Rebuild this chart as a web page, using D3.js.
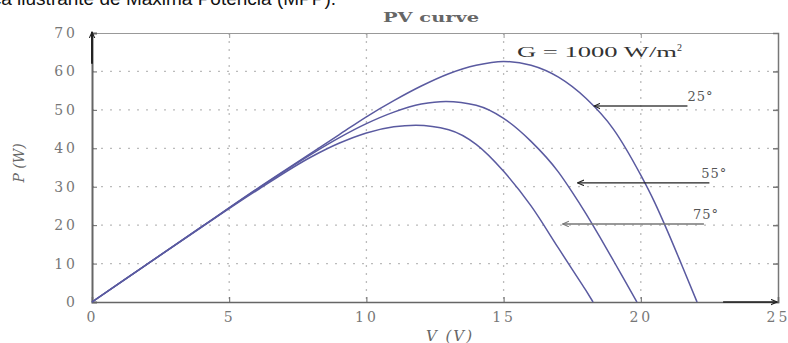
<!DOCTYPE html>
<html>
<head>
<meta charset="utf-8">
<script src="https://cdn.jsdelivr.net/npm/d3@7"></script>
<style>
  body { margin: 0; background: #fff; }
  svg { display: block; }
  .tick text { font-family: "DejaVu Serif", serif; font-size: 14px; fill: #777; letter-spacing: 3px; }
</style>
</head>
<body>
<div id="chart"></div>
<script>
// PV curves for three cell temperatures
var v25 = [0, 2, 4, 6, 8, 9, 10, 11, 12, 13, 14, 15, 16, 17, 18, 19, 20, 20.5, 21, 21.5, 22.05];
var p25 = [0, 9.8, 19.6, 29.4, 38.8, 43.5, 48.2, 52.4, 56.2, 59.4, 61.6, 62.6, 61.6, 58.5, 53, 45, 33, 26, 18, 9.5, 0];

var v55 = [0, 2, 4, 6, 8, 9, 10, 11, 12, 12.9, 14, 15, 16, 17, 17.5, 18, 18.5, 19, 19.5, 19.86];
var p55 = [0, 9.8, 19.6, 29.3, 38.5, 42.7, 46.4, 49.4, 51.5, 52.2, 51.2, 47.8, 41.8, 33.8, 28.6, 23, 17, 10.8, 4.5, 0];

var v75 = [0, 2, 4, 6, 8, 9, 10, 11, 11.8, 13, 14, 15, 16, 17, 17.5, 18, 18.26];
var p75 = [0, 9.8, 19.5, 29, 37.8, 41.3, 44, 45.6, 46, 44.8, 41, 34, 25, 14, 8.5, 3, 0];

var xTickValues = [0, 5, 10, 15, 20, 25];
var yTickValues = [0, 10, 20, 30, 40, 50, 60, 70];

// temperature labels and the power level their arrows point at
var tempLabels = ["25°", "55°", "75°"];
var tempArrowP = [51, 31, 20.3];

var width = 788, height = 343;
var mLeft = 92, mRight = 778, mTop = 33, mBottom = 302;

var svg = d3.select("#chart").append("svg")
    .attr("width", width)
    .attr("height", height);

var x = d3.scaleLinear().domain([0, 25]).range([mLeft, mRight]);
var y = d3.scaleLinear().domain([0, 70]).range([mBottom, mTop]);

// cropped caption text from the page above the figure
svg.append("text")
    .attr("x", 336).attr("y", 5)
    .attr("text-anchor", "end")
    .style("font-family", "'Liberation Sans', Arial, sans-serif")
    .style("font-size", "19px")
    .style("fill", "#111")
    .text("Curva característica ilustrante de Máxima Potência (MPP).");

// dotted grid
svg.append("g").selectAll("line")
    .data(xTickValues.slice(1, -1))
    .enter().append("line")
    .attr("x1", d => x(d)).attr("x2", d => x(d))
    .attr("y1", mTop).attr("y2", mBottom)
    .style("stroke", "#bbb").style("stroke-width", 1.3)
    .style("stroke-dasharray", "2,6");
svg.append("g").selectAll("line")
    .data(yTickValues.slice(1, -1))
    .enter().append("line")
    .attr("x1", mLeft).attr("x2", mRight)
    .attr("y1", d => y(d)).attr("y2", d => y(d))
    .style("stroke", "#bbb").style("stroke-width", 1.3)
    .style("stroke-dasharray", "2,7");

// box + axes (ticks inward, mirrored like matlab)
var xAxis = d3.axisBottom(x).tickValues(xTickValues).tickSize(-5).tickPadding(10);
var yAxis = d3.axisLeft(y).tickValues(yTickValues).tickSize(-5).tickPadding(14);

svg.append("g")
    .attr("transform", "translate(0," + mTop + ")")
    .call(d3.axisTop(x).tickValues(xTickValues.slice(1, -1)).tickSize(-5).tickFormat(""))
    .call(g => g.selectAll("line, path").style("stroke", "#999"));
svg.append("g")
    .attr("transform", "translate(" + mRight + ",0)")
    .call(d3.axisRight(y).tickValues(yTickValues.slice(1, -1)).tickSize(-5).tickFormat(""))
    .call(g => g.selectAll("line, path").style("stroke", "#777").style("stroke-width", 1.5));

svg.append("g")
    .attr("transform", "translate(0," + mBottom + ")")
    .call(xAxis)
    .call(g => g.select(".domain").style("stroke", "#666").style("stroke-width", 1.6))
    .call(g => g.selectAll(".tick line").style("stroke", "#666"));
svg.append("g")
    .attr("transform", "translate(" + mLeft + ",0)")
    .call(yAxis)
    .call(g => g.select(".domain").style("stroke", "#666").style("stroke-width", 2))
    .call(g => g.selectAll(".tick line").style("stroke", "#666"));

// arrows on the axes
var defs = svg.append("defs");
defs.append("marker")
    .attr("id", "ah").attr("viewBox", "0 0 10 10")
    .attr("refX", 9).attr("refY", 5)
    .attr("markerWidth", 7).attr("markerHeight", 7)
    .attr("markerUnits", "userSpaceOnUse")
    .attr("orient", "auto")
    .append("path").attr("d", "M0,1 L9,5 L0,9").style("fill", "none").style("stroke", "#222").style("stroke-width", 1.5);
defs.append("marker")
    .attr("id", "ahg").attr("viewBox", "0 0 10 10")
    .attr("refX", 9).attr("refY", 5)
    .attr("markerWidth", 7).attr("markerHeight", 7)
    .attr("markerUnits", "userSpaceOnUse")
    .attr("orient", "auto")
    .append("path").attr("d", "M0,1 L9,5 L0,9").style("fill", "none").style("stroke", "#777").style("stroke-width", 1.5);

svg.append("line")
    .attr("x1", x(0)).attr("x2", x(0))
    .attr("y1", y(62)).attr("y2", y(70) - 1)
    .style("stroke", "#222").style("stroke-width", 2)
    .attr("marker-end", "url(#ah)");
svg.append("line")
    .attr("x1", x(23)).attr("x2", x(25) - 1)
    .attr("y1", y(0)).attr("y2", y(0))
    .style("stroke", "#222").style("stroke-width", 1.6)
    .attr("marker-end", "url(#ah)");

// curves
var line = d3.line()
    .x(d => x(d[0]))
    .y(d => y(d[1]))
    .curve(d3.curveMonotoneX);

var curves = [d3.zip(v25, p25), d3.zip(v55, p55), d3.zip(v75, p75)];
svg.append("g").selectAll("path")
    .data(curves)
    .enter().append("path")
    .attr("d", line)
    .style("fill", "none")
    .style("stroke", "#5a5aa0")
    .style("stroke-width", 1.5);

// temperature arrows and labels
var arrowFrom = [21.7, 22.5, 22.3];
var arrowTo = [18.3, 17.7, 17.15];
var labelX = [21.7, 22.2, 21.9];
var arrowColor = ["#444", "#222", "#777"];
tempLabels.forEach(function(t, i) {
    svg.append("line")
        .attr("x1", x(arrowFrom[i])).attr("x2", x(arrowTo[i]))
        .attr("y1", y(tempArrowP[i])).attr("y2", y(tempArrowP[i]))
        .style("stroke", arrowColor[i]).style("stroke-width", 1.3)
        .attr("marker-end", i == 2 ? "url(#ahg)" : "url(#ah)");
    svg.append("text")
        .attr("x", x(labelX[i])).attr("y", y(tempArrowP[i]) - 5)
        .style("font-family", "'DejaVu Serif', serif")
        .style("font-size", "13px")
        .style("letter-spacing", "1px")
        .style("fill", "#555")
        .text(t);
});

// G label
var gLabel = svg.append("text")
    .attr("x", 517).attr("y", 57)
    .style("font-family", "'Liberation Serif', serif")
    .style("font-size", "15px")
    .style("fill", "#333");
gLabel.append("tspan")
    .attr("textLength", 160).attr("lengthAdjust", "spacingAndGlyphs")
    .text("G = 1000 W/m");
gLabel.append("tspan").attr("dy", -6).style("font-size", "10px").text("2");

// title and axis labels
svg.append("text")
    .attr("x", (mLeft + mRight) / 2 - 4).attr("y", 22)
    .attr("text-anchor", "middle")
    .attr("textLength", 96).attr("lengthAdjust", "spacingAndGlyphs")
    .style("font-family", "'DejaVu Serif', serif")
    .style("font-size", "13px")
    .style("font-weight", "bold")
    .style("fill", "#666")
    .text("PV curve");

svg.append("text")
    .attr("x", 450).attr("y", 341)
    .attr("text-anchor", "middle")
    .style("font-family", "'DejaVu Serif', serif")
    .style("font-size", "15px")
    .style("font-style", "italic")
    .style("letter-spacing", "2px")
    .style("fill", "#666")
    .text("V (V)");

svg.append("text")
    .attr("transform", "translate(24,163) rotate(-90)")
    .attr("text-anchor", "middle")
    .style("font-family", "'DejaVu Serif', serif")
    .style("font-size", "14px")
    .style("font-style", "italic")
    .style("fill", "#666")
    .text("P (W)");
</script>
</body>
</html>
